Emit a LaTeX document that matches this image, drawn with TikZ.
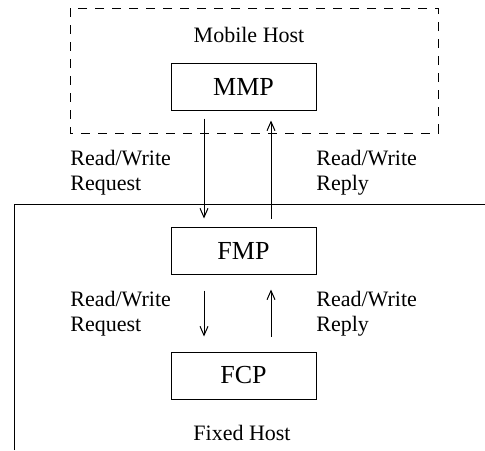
\documentclass[tikz,border=0pt]{standalone}
\usepackage{fontspec}
\setmainfont{Liberation Serif}
\usetikzlibrary{arrows.meta}

\tikzset{
	proc/.style={draw, line width=0.5pt, minimum width=72.5pt, minimum height=23.5pt, inner sep=0pt, font=\fontsize{13}{15}\selectfont},
	lbl/.style={align=left, anchor=west, inner sep=0pt, font=\fontsize{11}{12.5}\selectfont},
	arr/.style={line width=0.5pt, -{Straight Barb[length=4.5pt, width=4pt]}}
}

\begin{document}
\begin{tikzpicture}[x=0.5pt, y=-0.5pt]
		\useasboundingbox (0, 0) rectangle (485, 450);

		% Mobile host
		\draw[dashed, dash pattern=on 4.5pt off 4pt, line width=0.5pt] (70, 8) rectangle (438, 133);
		\node[font=\fontsize{11}{13}\selectfont] (mobile) at (249, 35) {Mobile Host};
		\node[proc] (mmp) at (243.5, 86.5) {MMP};

		% Fixed host
		\draw[line width=0.5pt] (14, 450) |- (485, 204);
		\node[proc] (fmp) at (243.5, 250.5) {FMP};
		\node[proc] (fcp) at (243.5, 375.5) {FCP};
		\node[font=\fontsize{11}{13}\selectfont] (fixed) at (242, 433) {Fixed Host};

		\draw[arr, shorten <=4pt, shorten >=4pt] ([xshift=-19.75pt]mmp.south) -- ([xshift=-19.75pt]fmp.north);
		\draw[arr, shorten <=4pt, shorten >=5pt] ([xshift=13.75pt]fmp.north) -- ([xshift=13.75pt]mmp.south);
		\node[lbl] (req1) at (70, 173) {Read/Write\\Request};
		\node[lbl] (rep1) at (316, 173) {Read/Write\\Reply};

		\draw[arr, shorten <=8pt, shorten >=7.5pt] ([xshift=-19.75pt]fmp.south) -- ([xshift=-19.75pt]fcp.north);
		\draw[arr, shorten <=7.5pt, shorten >=7.5pt] ([xshift=13.75pt]fcp.north) -- ([xshift=13.75pt]fmp.south);
		\node[lbl] (req2) at (70, 314) {Read/Write\\Request};
		\node[lbl] (rep2) at (316, 314) {Read/Write\\Reply};
	\end{tikzpicture}
\end{document}
